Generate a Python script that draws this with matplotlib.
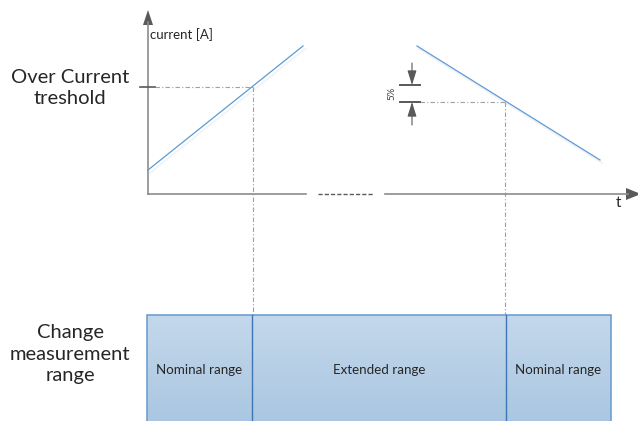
import numpy as np
import matplotlib
matplotlib.use("Agg")
import matplotlib.pyplot as plt
from matplotlib.patches import Rectangle, Polygon

plt.rcParams['font.family'] = ['Lato', 'DejaVu Sans']

# current ramps (t, current) in diagram units
rise_t = [0, 155]
rise_i = [24, 148]
fall_t = [269, 452]
fall_i = [148, 34]

threshold = 107          # over current threshold
threshold_low = 92       # threshold minus 5% hysteresis
t_switch_up = 105        # crossing of rising ramp
t_switch_down = 357      # crossing of falling ramp

# measurement range blocks
range_labels = ["Nominal range", "Extended range", "Nominal range"]
range_edges = [-1, 104, 358, 463]
box_bottom, box_top = -232, -121

fig = plt.figure(figsize=(6.38, 4.21), dpi=100)
ax = fig.add_axes([0, 0, 1, 1])
ax.set_xlim(-148, 490)
ax.set_ylim(-227, 194)
ax.axis("off")

axis_col = "#8c8c8c"
dark = "#595959"
blue = "#5b9bd5"

# axes of the plot
ax.plot([0, 0], [0, 172], color=axis_col, lw=1.2)
ax.add_patch(Polygon([[-5, 169], [5, 169], [0, 184]], closed=True, color=dark, lw=0))
ax.plot([0, 158], [0, 0], color=axis_col, lw=1.2)
ax.plot([170, 225], [0, 0], color=dark, lw=1, ls=(0, (3, 1.5)))
ax.plot([237, 480], [0, 0], color=axis_col, lw=1.2)
ax.add_patch(Polygon([[478, 6], [478, -6], [493, 0]], closed=True, color=dark, lw=0))
ax.text(470, -9, "t", fontsize=11, color="#262626", ha="center", va="center")
ax.text(2, 159, "current [A]", fontsize=9.5, color="#262626", ha="left", va="center")

# threshold tick
ax.plot([-8, 7], [threshold, threshold], color=dark, lw=1.2)

# current ramps with a faint shadow
ax.plot(np.array(rise_t) + 2, np.array(rise_i) - 3, color="#f2f2f2", lw=1.2, zorder=1)
ax.plot(np.array(fall_t) + 2, np.array(fall_i) - 3, color="#f2f2f2", lw=1.2, zorder=1)
ax.plot(rise_t, rise_i, color=blue, lw=0.9, zorder=2)
ax.plot(fall_t, fall_i, color=blue, lw=0.9, zorder=2)

# guide lines
guide = dict(color="#a0a0a0", lw=0.8, ls=(0, (4, 2, 1, 2)), zorder=1)
ax.plot([7, t_switch_up], [threshold, threshold], **guide)
ax.plot([t_switch_up, t_switch_up], [threshold, box_top], **guide)
ax.plot([272, t_switch_down], [threshold_low, threshold_low], **guide)
ax.plot([t_switch_down, t_switch_down], [threshold_low, box_top], **guide)

# 5% hysteresis marker
ax.plot([252, 272], [threshold + 2, threshold + 2], color=dark, lw=1.4)
ax.plot([252, 272], [threshold_low, threshold_low], color=dark, lw=1.4)
arrow_style = dict(arrowstyle="-|>,head_length=0.8,head_width=0.25",
                   color=dark, lw=0.8, mutation_scale=11, shrinkA=0, shrinkB=0)
ax.annotate("", xy=(264, threshold + 2), xytext=(264, 131), arrowprops=arrow_style)
ax.annotate("", xy=(264, threshold_low), xytext=(264, 69), arrowprops=arrow_style)
ax.text(244, 101, "5%", fontsize=7, rotation=90, color="#404040", ha="center", va="center")

# range boxes with gradient fill
grad = np.linspace(0, 1, 100).reshape(-1, 1)
cmap = matplotlib.colors.LinearSegmentedColormap.from_list("g", ["#a9c6e1", "#c4d8eb"])
im = ax.imshow(grad, cmap=cmap, aspect="auto", origin="lower",
               extent=[range_edges[0], range_edges[-1], box_bottom, box_top], zorder=2)
frame = Rectangle((range_edges[0], box_bottom), range_edges[-1] - range_edges[0],
                  box_top - box_bottom, fill=False, ec="#6f9fd0", lw=1.2, zorder=3)
ax.add_patch(frame)
im.set_clip_path(frame)
for e in range_edges[1:-1]:
    ax.plot([e, e], [box_bottom, box_top], color="#3f75b5", lw=1, zorder=3)
for i, lab in enumerate(range_labels):
    ax.text((range_edges[i] + range_edges[i + 1]) / 2, -176, lab, fontsize=9.6,
            color="#262626", ha="center", va="center", zorder=4)

# left labels
ax.text(-78, 106, "Over Current\ntreshold", fontsize=14.5, color="#262626",
        ha="center", va="center", linespacing=1.25)
ax.text(-78, -160, "Change\nmeasurement\nrange", fontsize=14.5, color="#262626",
        ha="center", va="center", linespacing=1.3)

fig.savefig("out.png", dpi=100)
